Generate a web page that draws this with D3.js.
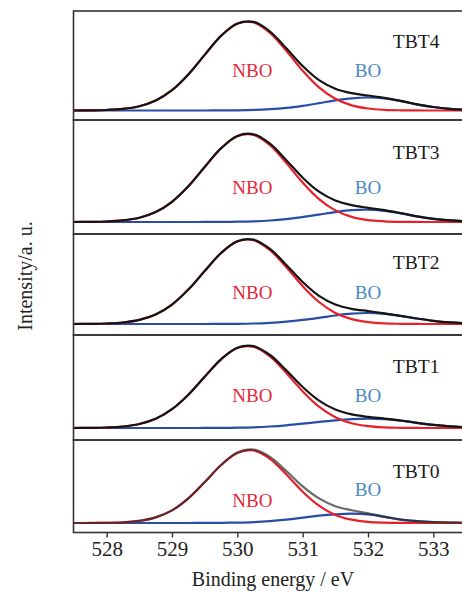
<!DOCTYPE html>
<html>
<head>
<meta charset="utf-8">
<script src="https://cdn.jsdelivr.net/npm/d3@7"></script>
<style>
  body { margin: 0; background: #fff; }
  svg { display: block; }
</style>
</head>
<body>
<div id="chart"></div>
<script>
// O 1s spectra, binding energy grid (eV)
const energies = [527.5, 527.75, 528, 528.25, 528.5, 528.75, 529, 529.25, 529.5, 529.75,
                  530, 530.25, 530.5, 530.75, 531, 531.25, 531.5, 531.75, 532, 532.25,
                  532.5, 532.75, 533, 533.25, 533.5];

const samples = ["TBT4", "TBT3", "TBT2", "TBT1", "TBT0"];
const xTicks = [528, 529, 530, 531, 532, 533];

// non-bridging oxygen fits
const nboTBT4 = [0.04, 0.14, 0.5, 1.6, 4.3, 10.0, 20.4, 36.1, 55.6, 74.5, 86.8, 88.0, 77.7, 59.6, 39.8, 23.1, 11.7, 5.1, 2.0, 0.7, 0.2, 0.04, 0, 0, 0];
const nboTBT3 = [0.04, 0.14, 0.5, 1.6, 4.2, 9.9, 20.2, 35.7, 55.0, 73.6, 85.8, 87.0, 76.8, 58.9, 39.4, 22.9, 11.6, 5.1, 1.9, 0.7, 0.2, 0.04, 0, 0, 0];
const nboTBT2 = [0.03, 0.14, 0.5, 1.5, 4.1, 9.5, 19.4, 34.4, 52.9, 70.9, 82.6, 83.8, 73.9, 56.7, 37.9, 22.0, 11.1, 4.9, 1.9, 0.6, 0.2, 0.04, 0, 0, 0];
const nboTBT1 = [0.03, 0.13, 0.5, 1.5, 4.0, 9.2, 18.8, 33.3, 51.2, 68.6, 80.0, 81.1, 71.5, 54.9, 36.7, 21.3, 10.8, 4.7, 1.8, 0.6, 0.2, 0.04, 0, 0, 0];
const nboTBT0 = [0.01, 0.04, 0.2, 0.7, 2.1, 5.6, 12.6, 24.6, 40.8, 57.8, 70.1, 72.5, 64.2, 48.5, 31.3, 17.3, 8.1, 3.3, 1.1, 0.3, 0.1, 0, 0, 0, 0];

// bridging oxygen fits
const boTBT4 = [0, 0, 0, 0, 0, 0, 0, 0, 0.02, 0.07, 0.22, 0.57, 1.3, 2.6, 4.7, 7.3, 10.1, 12.2, 13.0, 12.0, 9.4, 6.2, 3.5, 1.7, 0.7];
const boTBT3 = [0, 0, 0, 0, 0, 0, 0, 0, 0.03, 0.1, 0.3, 0.7, 1.5, 2.9, 4.9, 7.4, 9.9, 11.8, 12.3, 11.2, 8.7, 5.7, 3.2, 1.6, 0.7];
const boTBT2 = [0, 0, 0, 0, 0, 0, 0, 0, 0.02, 0.1, 0.2, 0.5, 1.2, 2.4, 4.1, 6.2, 8.5, 10.3, 11.0, 10.1, 8.0, 5.5, 3.2, 1.6, 0.7];
const boTBT1 = [0, 0, 0, 0, 0, 0, 0, 0, 0.05, 0.1, 0.3, 0.7, 1.5, 2.7, 4.3, 6.1, 7.7, 8.9, 9.3, 8.8, 7.3, 5.2, 3.2, 1.7, 0.8];
const boTBT0 = [0, 0, 0, 0, 0, 0, 0, 0, 0.1, 0.2, 0.4, 0.9, 1.9, 3.4, 5.3, 7.3, 8.7, 9.4, 8.6, 6.1, 3.4, 1.8, 0.9, 0.4, 0.2];

// measured envelope
const envTBT4 = [0.0, 0.1, 0.5, 1.6, 4.3, 10.0, 20.4, 36.1, 55.6, 74.6, 87.0, 88.6, 79.0, 62.2, 44.5, 30.4, 21.8, 17.3, 15.0, 12.7, 9.6, 6.2, 3.5, 1.7, 0.7];
const envTBT3 = [0.0, 0.1, 0.5, 1.6, 4.2, 9.9, 20.2, 35.7, 55.0, 73.7, 86.1, 87.7, 78.3, 61.8, 44.3, 30.3, 21.5, 16.9, 14.2, 11.9, 8.9, 5.7, 3.2, 1.6, 0.7];
const envTBT2 = [0.0, 0.1, 0.5, 1.5, 4.1, 9.5, 19.4, 34.4, 52.9, 71.0, 82.8, 84.3, 75.1, 59.1, 42.0, 28.2, 19.6, 15.2, 12.9, 10.7, 8.2, 5.5, 3.2, 1.6, 0.7];
const envTBT1 = [0.0, 0.1, 0.5, 1.5, 4.0, 9.2, 18.8, 33.3, 51.2, 68.7, 80.3, 81.8, 73.0, 57.6, 41.0, 27.4, 18.5, 13.6, 11.1, 9.4, 7.5, 5.2, 3.2, 1.7, 0.8];
const envTBT0 = [0.0, 0.0, 0.2, 0.7, 2.1, 5.6, 12.6, 24.7, 40.9, 58.0, 70.5, 73.4, 66.1, 51.9, 36.6, 24.6, 16.8, 12.7, 9.7, 6.4, 3.5, 1.8, 0.9, 0.4, 0.2];

const nbo = [nboTBT4, nboTBT3, nboTBT2, nboTBT1, nboTBT0];
const bo = [boTBT4, boTBT3, boTBT2, boTBT1, boTBT0];
const envelope = [envTBT4, envTBT3, envTBT2, envTBT1, envTBT0];

// layout
const width = 462, height = 592;
const font = "'Liberation Serif', 'DejaVu Serif', serif";
const panelEdges = [11, 120, 234, 335, 440, 532.5];
const basePad = [9.5, 12, 11, 12, 9.5];
// label placement: [x in eV, offset from panel top]
const nboLabelPos = [[530.23, 66], [530.23, 74], [530.23, 65], [530.23, 67], [530.23, 67]];
const boLabelPos = [[532.0, 66], [532.0, 74], [532.0, 65], [532.0, 67], [532.0, 56]];
const nameLabelPos = [[532.38, 37], [532.38, 39], [532.38, 35], [532.38, 38], [532.38, 38]];

const svg = d3.select("#chart")
  .append("svg")
  .attr("width", width)
  .attr("height", height);

const x = d3.scaleLinear().domain([527.5, 533.5]).range([74, 466]);
const left = 73.5, right = 466;

const defs = svg.append("defs");

samples.forEach((name, i) => {
  const top = panelEdges[i], bottom = panelEdges[i + 1];
  const y = d3.scaleLinear()
    .domain([-basePad[i], bottom - top - basePad[i]])
    .range([bottom, top]);

  defs.append("clipPath")
    .attr("id", "clip" + i)
    .append("rect")
    .attr("x", left)
    .attr("y", top)
    .attr("width", right - left)
    .attr("height", bottom - top);

  const g = svg.append("g").attr("clip-path", `url(#clip${i})`);

  const line = d3.line()
    .x((d, j) => x(energies[j]))
    .y(d => y(d))
    .curve(d3.curveCatmullRom.alpha(0.5));

  g.append("path")
    .attr("d", line(bo[i]))
    .attr("fill", "none")
    .attr("stroke", "#2a4ca6")
    .attr("stroke-width", 2.2);

  g.append("path")
    .attr("d", line(nbo[i]))
    .attr("fill", "none")
    .attr("stroke", "#e8202a")
    .attr("stroke-width", 2.2);

  // bottom panel envelope is lighter, red shows through it
  g.append("path")
    .attr("d", line(envelope[i]))
    .attr("fill", "none")
    .attr("stroke", i === 4 ? "#2a2a2a" : "#141414")
    .attr("stroke-opacity", i === 4 ? 0.7 : 1)
    .attr("stroke-width", 2.2);

  // panel frame
  svg.append("rect")
    .attr("x", left)
    .attr("y", top)
    .attr("width", right - left)
    .attr("height", bottom - top)
    .attr("fill", "none")
    .attr("stroke", "#333")
    .attr("stroke-width", 1.6);

  svg.append("text")
    .attr("x", x(nameLabelPos[i][0]))
    .attr("y", top + nameLabelPos[i][1])
    .style("font-family", font)
    .style("font-size", "19.5px")
    .style("fill", "#1a1a1a")
    .text(name);

  svg.append("text")
    .attr("x", x(nboLabelPos[i][0]))
    .attr("y", top + nboLabelPos[i][1])
    .attr("text-anchor", "middle")
    .style("font-family", font)
    .style("font-size", "19px")
    .style("fill", "#e3283a")
    .text("NBO");

  svg.append("text")
    .attr("x", x(boLabelPos[i][0]))
    .attr("y", top + boLabelPos[i][1])
    .attr("text-anchor", "middle")
    .style("font-family", font)
    .style("font-size", "19px")
    .style("fill", "#4a8ac8")
    .text("BO");
});

// bottom axis
const xAxis = svg.append("g")
  .attr("transform", `translate(0,${panelEdges[5]})`)
  .call(d3.axisBottom(x).tickValues(xTicks).tickFormat(d3.format("d")).tickSize(5).tickSizeOuter(0).tickPadding(4));
xAxis.select(".domain").remove();
xAxis.selectAll("line").attr("stroke", "#333").attr("stroke-width", 1.4);
xAxis.selectAll("text")
  .style("font-family", font)
  .style("font-size", "21px")
  .style("fill", "#222");

svg.append("text")
  .attr("x", 273)
  .attr("y", 585.5)
  .attr("text-anchor", "middle")
  .style("font-family", font)
  .style("font-size", "20px")
  .style("fill", "#222")
  .text("Binding energy / eV");

svg.append("text")
  .attr("transform", "translate(31.5,276) rotate(-90)")
  .attr("text-anchor", "middle")
  .style("font-family", font)
  .style("font-size", "20px")
  .style("fill", "#222")
  .text("Intensity/a. u.");
</script>
</body>
</html>
